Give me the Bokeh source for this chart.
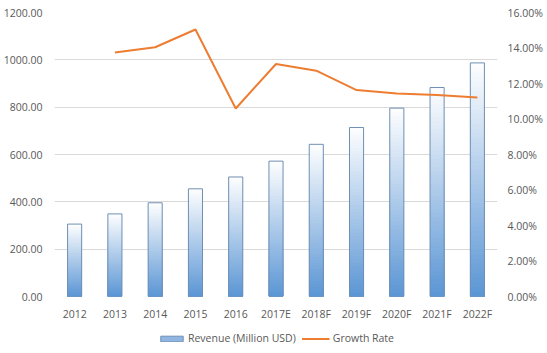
from bokeh.plotting import figure
from bokeh.layouts import column
from bokeh.models import (ColumnDataSource, FactorRange, Range1d, LinearAxis, FixedTicker,
                          PrintfTickFormatter, NumeralTickFormatter, Legend, LegendItem)
from bokeh.embed import file_html
from bokeh.resources import INLINE

categories = ["2012", "2013", "2014", "2015", "2016", "2017E", "2018F", "2019F", "2020F", "2021F", "2022F"]
revenue = [306, 349, 396, 455, 505, 572, 643, 714, 796, 883, 987]
growth_years = ["2013", "2014", "2015", "2016", "2017E", "2018F", "2019F", "2020F", "2021F", "2022F"]
growth_rate = [13.75, 14.04, 15.04, 10.59, 13.10, 12.72, 11.63, 11.44, 11.35, 11.21]
left_ticks = [0, 200, 400, 600, 800, 1000, 1200]
right_ticks = [0, 2, 4, 6, 8, 10, 12, 14, 16]

FONT = "Open Sans"
TXT = "#595959"
BAR_LINE = "#6f8fb3"
LINE_COLOR = "#ed7d31"

p = figure(width=547, height=323, x_range=FactorRange(*categories, range_padding=0),
           y_range=Range1d(0, 1200), output_backend="svg", toolbar_location=None,
           min_border_left=53, min_border_right=50, min_border_top=12, min_border_bottom=26)
p.outline_line_color = None
p.background_fill_color = "white"
p.border_fill_color = "white"

# gradient bars: nested slices, tallest (lightest) first, shorter (bluer) on top
n = 50
bot_rgb = (91, 150, 213)
top_rgb = (255, 255, 255)
xs, tops, cols = [], [], []
for c, v in zip(categories, revenue):
    for k in range(n, 0, -1):
        t = (k - 0.5) / n
        r = int(bot_rgb[0] + (top_rgb[0] - bot_rgb[0]) * t)
        g = int(bot_rgb[1] + (top_rgb[1] - bot_rgb[1]) * t)
        b = int(bot_rgb[2] + (top_rgb[2] - bot_rgb[2]) * t)
        xs.append(c)
        tops.append(v * k / n)
        cols.append("#%02x%02x%02x" % (r, g, b))
grad = ColumnDataSource(dict(x=xs, top=tops, color=cols))
p.vbar(x="x", top="top", width=0.35, fill_color="color", line_color=None, source=grad)
src = ColumnDataSource(dict(x=categories, top=revenue))
p.vbar(x="x", top="top", width=0.35, fill_color=None, line_color=BAR_LINE, line_width=1, source=src)

p.extra_y_ranges = {"pct": Range1d(0, 16)}
p.line(x=growth_years, y=growth_rate, y_range_name="pct", line_color=LINE_COLOR, line_width=2)

# axes
p.yaxis.ticker = FixedTicker(ticks=left_ticks)
p.yaxis.formatter = NumeralTickFormatter(format="0.00")
right = LinearAxis(y_range_name="pct", ticker=FixedTicker(ticks=right_ticks),
                   formatter=PrintfTickFormatter(format="%.2f%%"))
p.add_layout(right, "right")
for ax in [p.yaxis[0], right, p.xaxis[0]]:
    ax.axis_line_color = None
    ax.major_tick_line_color = None
    ax.minor_tick_line_color = None
    ax.major_label_text_font = FONT
    ax.major_label_text_font_size = "10.5px"
    ax.major_label_text_color = TXT
p.yaxis[0].major_label_standoff = 6
right.major_label_standoff = 4
p.xaxis[0].major_label_standoff = 4
p.xgrid.grid_line_color = None
p.ygrid.grid_line_color = "#d9d9d9"
p.ygrid.ticker = FixedTicker(ticks=left_ticks)

# legend strip
lf = figure(width=547, height=30, x_range=Range1d(0, 1), y_range=Range1d(0, 1),
            output_backend="svg", toolbar_location=None,
            min_border_left=0, min_border_right=0, min_border_top=0, min_border_bottom=0)
lf.axis.visible = False
lf.grid.grid_line_color = None
lf.outline_line_color = None
lf.border_fill_color = "white"
sw = lf.vbar(x=[-5], bottom=[-6], top=[-5], width=0.3, fill_color="#8fb6e3", line_color=BAR_LINE)
ln = lf.line(x=[-5, -4], y=[-5, -5], line_color=LINE_COLOR, line_width=2)
legend = Legend(items=[LegendItem(label="Revenue (Million USD)", renderers=[sw]),
                       LegendItem(label="Growth Rate", renderers=[ln])],
                orientation="horizontal", location="center",
                label_text_font=FONT, label_text_font_size="10.5px", label_text_color=TXT,
                glyph_width=28, glyph_height=7, label_standoff=3, spacing=6,
                border_line_color=None, background_fill_alpha=0, padding=2, margin=0)
lf.add_layout(legend, "center")

layout = column(p, lf, spacing=0)
open("out.html", "w").write(file_html(layout, INLINE))
